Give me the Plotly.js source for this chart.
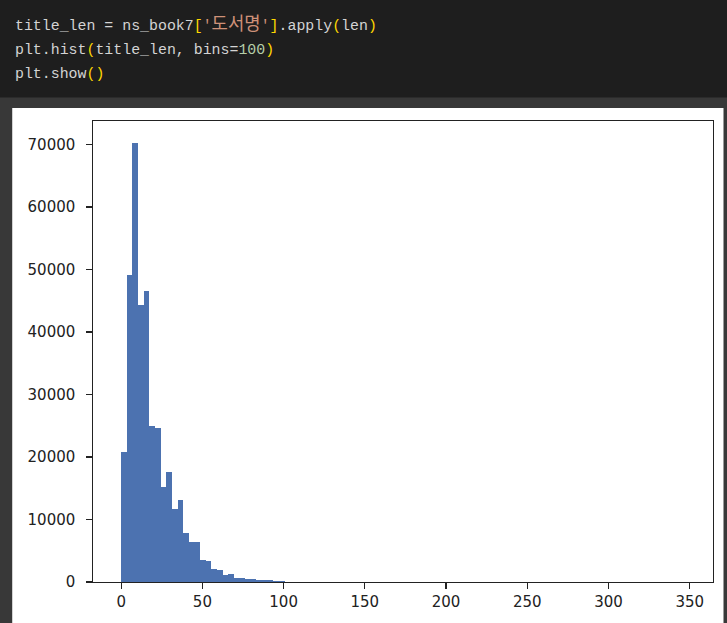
<!DOCTYPE html>
<html>
<head>
<meta charset="utf-8">
<script src="https://cdn.plot.ly/plotly-3.0.1.min.js"></script>
<style>
html,body{margin:0;padding:0;background:#383838;overflow:hidden;}
#chart{width:727px;height:623px;}
</style>
</head>
<body>
<div id="chart"></div>
<script>
// ---- data (plt.hist(title_len, bins=100)) ----
const binStart = 0;
const binWidth = 3.47;
const counts = [
  20800, 49100, 70250, 44400, 46550, 25000, 24600, 15250, 17650, 11700,
  13050, 7900, 6450, 6400, 3450, 3400, 2050, 2000, 1050, 1300,
  700, 650, 430, 420, 300, 280, 260, 240, 220, 70,
  55, 40, 32, 28, 22, 18, 15, 13, 11, 10,
  9, 8, 7, 6, 6, 5, 4, 4, 3, 3,
  3, 2, 2, 2, 2, 1, 1, 1, 1, 1,
  1, 1, 0, 1, 0, 1, 0, 0, 1, 0,
  0, 1, 0, 0, 0, 1, 0, 0, 0, 0,
  1, 0, 0, 0, 0, 0, 1, 0, 0, 0,
  0, 0, 0, 0, 0, 0, 0, 0, 0, 1
];
const yTicks = [0, 10000, 20000, 30000, 40000, 50000, 60000, 70000];
const xTicks = [0, 50, 100, 150, 200, 250, 300, 350];

// code cell text (segments: [text, colour])
const codeLines = [
  [["title_len = ns_book7", "#d4d4d4"], ["[", "#ffd700"], ["'도서명'", "#ce9178"], ["]", "#ffd700"], [".apply", "#d4d4d4"], ["(", "#ffd700"], ["len", "#d4d4d4"], [")", "#ffd700"]],
  [["plt.hist", "#d4d4d4"], ["(", "#ffd700"], ["title_len, bins=", "#d4d4d4"], ["100", "#b5cea8"], [")", "#ffd700"]],
  [["plt.show", "#d4d4d4"], ["()", "#ffd700"]]
];

// ---- layout geometry ----
const W = 727, H = 623;
const mL = 93.3, mR = 727 - 713.5, mT = 121, mB = 623 - 581.7;
const pw = W - mL - mR, ph = H - mT - mB;
const px2x = p => (p - mL) / pw;
const py2y = p => (H - mB - p) / ph;
const lineCenters = [22.5, 50, 74];

const centers = counts.map((c, i) => binStart + binWidth * (i + 0.5));
const dataMax = binStart + binWidth * counts.length;
const cMax = Math.max(...counts);

const trace = {
  type: 'bar',
  x: centers,
  y: counts,
  width: binWidth,
  marker: {color: '#4C72B0', line: {width: 0}},
  hoverinfo: 'x+y'
};

const esc = s => s.replace(/&/g, '&amp;').replace(/</g, '&lt;');
const annotations = codeLines.map((segs, i) => ({
  xref: 'paper', yref: 'paper',
  x: px2x(13), y: py2y(lineCenters[i]),
  xanchor: 'left', yanchor: 'middle',
  showarrow: false,
  align: 'left',
  font: {family: 'Liberation Mono, DejaVu Sans Mono, Noto Sans CJK KR, monospace', size: 14.9, color: '#d8d8d8'},
  text: segs.map(([t, c]) => {
    if (/[\uac00-\ud7a3]/.test(t)) {
      return t.split(/([\uac00-\ud7a3]+)/).filter(Boolean).map(part =>
        /[\uac00-\ud7a3]/.test(part)
          ? '<span style="color:' + c + ';font-size:17.8px;font-family:Noto Sans CJK KR">' + esc(part) + '</span>'
          : '<span style="color:' + c + '">' + esc(part) + '</span>').join('');
    }
    return '<span style="color:' + c + '">' + esc(t) + '</span>';
  }).join('')
}));

const shapes = [
  // dark code area
  {type: 'rect', xref: 'paper', yref: 'paper', layer: 'below',
   x0: px2x(-5), x1: px2x(W + 5), y0: py2y(97.5), y1: py2y(-5),
   fillcolor: '#1e1e1e', line: {width: 0}},
  // white output panel
  {type: 'rect', xref: 'paper', yref: 'paper', layer: 'below',
   x0: px2x(12.5), x1: px2x(724), y0: py2y(H + 5), y1: py2y(108),
   fillcolor: '#ffffff', line: {width: 0}}
];

const axisCommon = {
  showgrid: false, zeroline: false,
  showline: true, mirror: true, linecolor: '#222222', linewidth: 1.2,
  ticks: 'outside', ticklen: 5.5, tickwidth: 1.2, tickcolor: '#222222',
  tickfont: {family: 'DejaVu Sans, sans-serif', size: 15, color: '#222222'},
  fixedrange: true
};

const layout = {
  width: W, height: H,
  margin: {l: mL, r: mR, t: mT, b: mB, pad: 0},
  paper_bgcolor: '#383838',
  plot_bgcolor: '#ffffff',
  bargap: 0,
  showlegend: false,
  xaxis: Object.assign({}, axisCommon, {
    range: [binStart - 0.05 * (dataMax - binStart), dataMax + 0.05 * (dataMax - binStart)],
    tickvals: xTicks, ticktext: xTicks.map(String),
    ticklabelstandoff: 0
  }),
  yaxis: Object.assign({}, axisCommon, {
    range: [0, cMax * 1.05],
    tickvals: yTicks, ticktext: yTicks.map(String),
    ticklabelstandoff: 8
  }),
  shapes: shapes,
  annotations: annotations
};

Plotly.newPlot('chart', [trace], layout, {displayModeBar: false, staticPlot: true});
</script>
</body>
</html>
